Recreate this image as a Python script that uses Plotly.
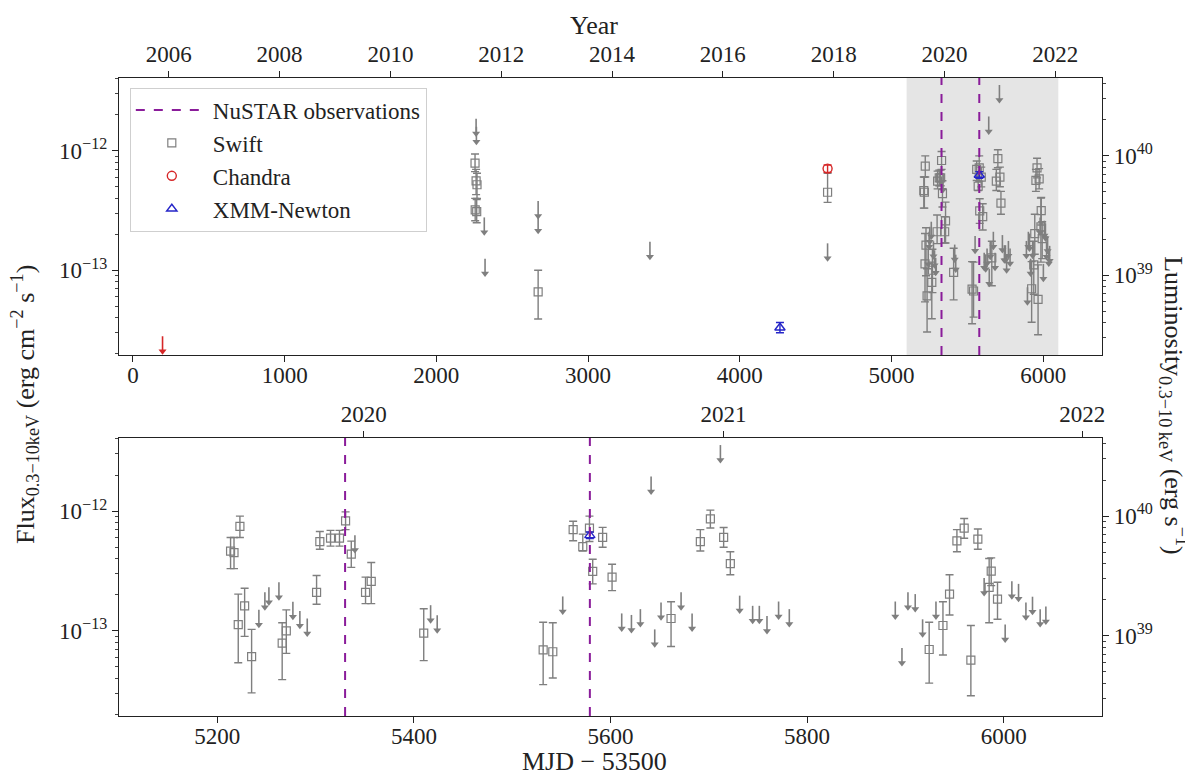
import plotly.graph_objects as go
from datetime import date
import math

# ---------------- data ----------------
MJD_OFFSET = 53500
L_OVER_F = 1.1e52  # luminosity / flux conversion

# Swift detections: time (MJD-53500), flux, lower bound, upper bound
swift_t = [2255, 2262, 2268, 2256, 2266, 2671, 4579,
           5213.5, 5217, 5223, 5221.3, 5227.8, 5234.9, 5266, 5270.2, 5301, 5304.3,
           5315.2, 5324.3, 5330.5, 5336.3, 5350.8, 5356.6, 5410,
           5531.5, 5541.3, 5562, 5571.8, 5578.6, 5581.9, 5592, 5601.6, 5661.6,
           5691.4, 5701.6, 5715.1, 5721.9,
           5924.2, 5938.2, 5944.9, 5952.4, 5959.8, 5966.6, 5973.7, 5985.2, 5987.3, 5993.7]
swift_f = [7.9e-13, 5.6e-13, 5.2e-13, 3.2e-13, 3.1e-13, 6.6e-14, 4.5e-13,
           4.64e-13, 4.5e-13, 7.46e-13, 1.13e-13, 1.62e-13, 6.1e-14, 7.9e-14, 1.0e-13, 2.1e-13, 5.57e-13,
           5.94e-13, 5.94e-13, 8.3e-13, 4.38e-13, 2.1e-13, 2.59e-13, 9.6e-14,
           6.95e-14, 6.7e-14, 7.0e-13, 5.05e-13, 7.2e-13, 3.14e-13, 6.03e-13, 2.81e-13, 1.27e-13,
           5.57e-13, 8.6e-13, 6.03e-13, 3.65e-13,
           7.0e-14, 1.11e-13, 2.03e-13, 5.65e-13, 7.2e-13, 5.7e-14, 5.83e-13, 2.31e-13, 3.16e-13, 1.84e-13]
swift_lo = [6.7e-13, 4.3e-13, 4.0e-13, 2.6e-13, 2.5e-13, 3.9e-14, 3.7e-13,
            3.31e-13, 3.31e-13, 6.03e-13, 5.43e-14, 9.0e-14, 3.04e-14, 3.92e-14, 6.5e-14, 1.67e-13, 4.8e-13,
            5.1e-13, 5.1e-13, 7.0e-13, 3.39e-13, 1.69e-13, 1.69e-13, 5.65e-14,
            3.56e-14, 4.05e-14, 5.65e-13, 4.65e-13, 5.57e-13, 2.47e-13, 4.99e-13, 2.17e-13, 7.41e-14,
            4.65e-13, 7.22e-13, 5.0e-13, 2.94e-13,
            3.67e-14, 6.3e-14, 1.36e-13, 4.58e-13, 5.94e-13, 2.88e-14, 4.8e-13, 1.17e-13, 2.39e-13, 1.25e-13]
swift_hi = [9.4e-13, 7.0e-13, 6.5e-13, 4.0e-13, 3.9e-13, 1.0e-13, 6.5e-13,
            6.03e-13, 6.03e-13, 9.08e-13, 2.03e-13, 2.27e-13, 1.03e-13, 1.17e-13, 1.5e-13, 2.9e-13, 6.76e-13,
            6.9e-13, 6.9e-13, 9.86e-13, 5.62e-13, 2.81e-13, 3.72e-13, 1.53e-13,
            1.18e-13, 1.17e-13, 8.22e-13, 6.43e-13, 9.08e-13, 3.97e-13, 7.31e-13, 3.6e-13, 1.75e-13,
            7.0e-13, 1.02e-12, 7.3e-13, 4.58e-13,
            1.18e-13, 1.75e-13, 2.94e-13, 7.0e-13, 8.67e-13, 1.11e-13, 7.1e-13, 4.02e-13, 4.07e-13, 2.55e-13]

# Swift upper limits
swift_ul_t = [2262, 2264, 2316, 2321, 2671, 2671, 3408, 4579,
              5242.3, 5248.4, 5252.5, 5262.7, 5276.9, 5284, 5291.5, 5340, 5417, 5423.7,
              5551.4, 5611.4, 5621.3, 5630.4, 5641.3, 5645, 5651.4, 5671.8, 5683, 5711.8,
              5731.4, 5744.6, 5751.4, 5759.2, 5771, 5781.9,
              5889.7, 5896.5, 5902.6, 5910, 5917.5, 5931.1, 5980.1, 6001.5, 6008.3, 6015.1,
              6022.6, 6029.3, 6037.1, 6042.9]
swift_ul_f = [1.86e-12, 1.59e-12, 2.77e-13, 1.25e-13, 3.8e-13, 2.86e-13, 1.73e-13, 1.68e-13,
              1.5e-13, 2.1e-13, 2.31e-13, 2.55e-13, 1.75e-13, 1.47e-13, 1.27e-13, 6.3e-13, 1.64e-13, 1.35e-13,
              1.94e-13, 1.4e-13, 1.36e-13, 1.52e-13, 1.94e-12, 1.03e-13, 1.73e-13, 2.1e-13, 1.4e-13, 3.56e-12,
              1.97e-13, 1.62e-13, 1.62e-13, 1.33e-13, 1.76e-13, 1.52e-13,
              1.76e-13, 7.2e-14, 2.1e-13, 2.03e-13, 1.25e-13, 1.76e-13, 2.76e-13, 1.13e-13, 2.6e-13, 2.47e-13,
              1.73e-13, 1.93e-13, 1.52e-13, 1.6e-13]

# Chandra
chandra_t = [4579]
chandra_f = [7.1e-13]
chandra_lo = [6.6e-13]
chandra_hi = [7.6e-13]
chandra_ul_t = [195]
chandra_ul_f = [2.8e-14]

# XMM-Newton
xmm_t = [4265, 5579]
xmm_f = [3.3e-14, 6.27e-13]
xmm_lo = [3.0e-14, 5.9e-13]
xmm_hi = [3.65e-14, 6.7e-13]

# NuSTAR observations and highlighted window
nustar_t = [5330, 5579]
zoom_window = [5100, 6100]

# ticks
top_xticks = [0, 1000, 2000, 3000, 4000, 5000, 6000]
bot_xticks = [5200, 5400, 5600, 5800, 6000]
top_years = [2006, 2008, 2010, 2012, 2014, 2016, 2018, 2020, 2022]
bot_years = [2020, 2021, 2022]
flux_ticks = [1e-13, 1e-12]
flux_ticktext = ["10<sup>\u221213</sup>", "10<sup>\u221212</sup>"]
lum_ticks = [1e39, 1e40]
lum_ticktext = ["10<sup>39</sup>", "10<sup>40</sup>"]

# ---------------- style ----------------
FONT = "Liberation Serif, Times New Roman, serif"
FS = 23
TITLE_FS = 26
GRAY = "#7f7f7f"
RED = "#d62728"
BLUE = "#2525c8"
PURPLE = "#8a1c9a"
SHADE = "#e5e5e5"
UL_RATIO = 0.75  # arrow length of upper limits (fraction of value)

LOG_RANGE = [-13.71, -11.39]
LUM_RANGE = [LOG_RANGE[0] + math.log10(L_OVER_F), LOG_RANGE[1] + math.log10(L_OVER_F)]


def year_to_day(y):
    return (date(y, 1, 1) - date(1858, 11, 17)).days - MJD_OFFSET


def minor_vals(lo_exp, hi_exp):
    vals = []
    for e in range(lo_exp, hi_exp + 1):
        for m in range(2, 10):
            vals.append(float(m) * 10.0 ** e)
    return vals


fig = go.Figure()

panels = [("x", "y", True), ("x3", "y3", False)]
for xa, ya, show in panels:
    fig.add_trace(go.Scatter(x=[None], y=[None], mode="lines", name="NuSTAR observations",
                             line=dict(color=PURPLE, dash="dash", width=2),
                             xaxis=xa, yaxis=ya, showlegend=show, hoverinfo="skip"))
    fig.add_trace(go.Scatter(
        x=swift_t, y=swift_f, mode="markers", name="Swift",
        marker=dict(symbol="square-open", size=8, color=GRAY, line=dict(width=1.2, color=GRAY)),
        error_y=dict(type="data", symmetric=False,
                     array=[h - f for h, f in zip(swift_hi, swift_f)],
                     arrayminus=[f - l for f, l in zip(swift_f, swift_lo)],
                     color=GRAY, thickness=1.4, width=4),
        xaxis=xa, yaxis=ya, showlegend=show))
    heads = [f * UL_RATIO for f in swift_ul_f]
    fig.add_trace(go.Scatter(
        x=swift_ul_t, y=heads, mode="markers", name="Swift UL",
        marker=dict(symbol="triangle-down", size=7, color=GRAY),
        error_y=dict(type="data", symmetric=False,
                     array=[f - h for f, h in zip(swift_ul_f, heads)],
                     arrayminus=[0] * len(heads), color=GRAY, thickness=1.6, width=0),
        xaxis=xa, yaxis=ya, showlegend=False, hoverinfo="skip"))
    fig.add_trace(go.Scatter(
        x=chandra_t, y=chandra_f, mode="markers", name="Chandra",
        marker=dict(symbol="circle-open", size=9, color=RED, line=dict(width=1.4, color=RED)),
        error_y=dict(type="data", symmetric=False,
                     array=[h - f for h, f in zip(chandra_hi, chandra_f)],
                     arrayminus=[f - l for f, l in zip(chandra_f, chandra_lo)],
                     color=RED, thickness=1.4, width=4),
        xaxis=xa, yaxis=ya, showlegend=show))
    cheads = [f * UL_RATIO for f in chandra_ul_f]
    fig.add_trace(go.Scatter(
        x=chandra_ul_t, y=cheads, mode="markers", name="Chandra UL",
        marker=dict(symbol="triangle-down", size=7, color=RED),
        error_y=dict(type="data", symmetric=False,
                     array=[f - h for f, h in zip(chandra_ul_f, cheads)],
                     arrayminus=[0] * len(cheads), color=RED, thickness=1.6, width=0),
        xaxis=xa, yaxis=ya, showlegend=False, hoverinfo="skip"))
    fig.add_trace(go.Scatter(
        x=xmm_t, y=xmm_f, mode="markers", name="XMM-Newton",
        marker=dict(symbol="triangle-up-open", size=9, color=BLUE, line=dict(width=1.4, color=BLUE)),
        error_y=dict(type="data", symmetric=False,
                     array=[h - f for h, f in zip(xmm_hi, xmm_f)],
                     arrayminus=[f - l for f, l in zip(xmm_f, xmm_lo)],
                     color=BLUE, thickness=1.4, width=4),
        xaxis=xa, yaxis=ya, showlegend=show))

fig.add_trace(go.Scatter(x=[None], y=[None], xaxis="x2", yaxis="y2", showlegend=False, hoverinfo="skip"))
fig.add_trace(go.Scatter(x=[None], y=[None], xaxis="x4", yaxis="y4", showlegend=False, hoverinfo="skip"))

fig.add_shape(type="rect", xref="x", yref="y domain", x0=zoom_window[0], x1=zoom_window[1],
              y0=0, y1=1, fillcolor=SHADE, line=dict(width=0), layer="below")
for t in nustar_t:
    for xr, yr in [("x", "y domain"), ("x3", "y3 domain")]:
        fig.add_shape(type="line", xref=xr, yref=yr, x0=t, x1=t, y0=0, y1=1,
                      line=dict(color=PURPLE, dash="dash", width=2), layer="above")

tickfont = dict(family=FONT, size=FS, color="#222")
axis_common = dict(showline=True, linecolor="#222", linewidth=1.3, ticks="outside",
                   tickcolor="#222", ticklen=6, tickwidth=1.2, showgrid=False, zeroline=False,
                   tickfont=tickfont)
minor_flux = dict(tickmode="array", tickvals=minor_vals(-14, -12), ticks="outside",
                  ticklen=3, tickcolor="#444", tickwidth=1)
minor_lum = dict(tickmode="array", tickvals=minor_vals(38, 40), ticks="outside",
                 ticklen=3, tickcolor="#444", tickwidth=1)

TOP_DOM = [0.5658, 1.0]
BOT_DOM = [0.0, 0.4357]
top_xrange = [-92, 6388]

# the page adds an 8 px body margin, so the figure is 8 px smaller on each axis
fig.update_layout(
    width=1185, height=770,
    margin=dict(l=111, r=91, t=70, b=62),
    paper_bgcolor="white", plot_bgcolor="white",
    font=dict(family=FONT, size=FS, color="#222"),
    xaxis=dict(domain=[0, 1], anchor="y", range=top_xrange, tickmode="array",
               tickvals=top_xticks, ticktext=[str(v) for v in top_xticks],
               ticklabelstandoff=-7, **axis_common),
    xaxis2=dict(overlaying="x", side="top", anchor="y", range=top_xrange, tickmode="array",
                tickvals=[year_to_day(y) for y in top_years], ticktext=[str(y) for y in top_years],
                **axis_common),
    yaxis=dict(domain=TOP_DOM, anchor="x", type="log", range=LOG_RANGE, tickmode="array",
               tickvals=flux_ticks, ticktext=flux_ticktext, minor=minor_flux, **axis_common),
    yaxis2=dict(overlaying="y", side="right", anchor="x", type="log", range=LUM_RANGE,
                tickmode="array", tickvals=lum_ticks, ticktext=lum_ticktext, minor=minor_lum,
                **axis_common),
    xaxis3=dict(domain=[0, 1], anchor="y3", range=zoom_window, tickmode="array",
                tickvals=bot_xticks, ticktext=[str(v) for v in bot_xticks],
                ticklabelstandoff=-7, **axis_common),
    xaxis4=dict(overlaying="x3", side="top", anchor="y3", range=zoom_window, tickmode="array",
                tickvals=[year_to_day(y) for y in bot_years], ticktext=[str(y) for y in bot_years],
                **axis_common),
    yaxis3=dict(domain=BOT_DOM, anchor="x3", type="log", range=LOG_RANGE, tickmode="array",
                tickvals=flux_ticks, ticktext=flux_ticktext, minor=minor_flux, **axis_common),
    yaxis4=dict(overlaying="y3", side="right", anchor="x3", type="log", range=LUM_RANGE,
                tickmode="array", tickvals=lum_ticks, ticktext=lum_ticktext, minor=minor_lum,
                **axis_common),
    legend=dict(x=0.011, y=0.985, xanchor="left", yanchor="top",
                bgcolor="rgba(255,255,255,0.85)", bordercolor="#cfcfcf", borderwidth=1,
                font=dict(family=FONT, size=FS, color="#222"), itemwidth=72, tracegroupgap=0),
    showlegend=True,
)

ann_font = dict(family=FONT, size=TITLE_FS, color="#222")
fig.add_annotation(text="Flux<sub>0.3\u221210keV</sub> (erg cm<sup>\u22122</sup> s<sup>\u22121</sup>)",
                   xref="paper", yref="paper", x=-0.0956, y=0.4875, textangle=-90,
                   showarrow=False, font=ann_font, xanchor="center", yanchor="middle")
fig.add_annotation(text="Luminosity<sub>0.3\u221210 keV</sub> (erg s<sup>\u22121</sup>)",
                   xref="paper", yref="paper", x=1.073, y=0.4875, textangle=90,
                   showarrow=False, font=ann_font, xanchor="center", yanchor="middle")
fig.add_annotation(text="MJD \u2212 53500", xref="paper", yref="paper", x=0.484, y=-0.0721,
                   showarrow=False, font=ann_font, xanchor="center", yanchor="middle")
fig.add_annotation(text="Year", xref="paper", yref="paper", x=0.483, y=1.083,
                   showarrow=False, font=ann_font, xanchor="center", yanchor="middle")

fig.write_html("out.html")
